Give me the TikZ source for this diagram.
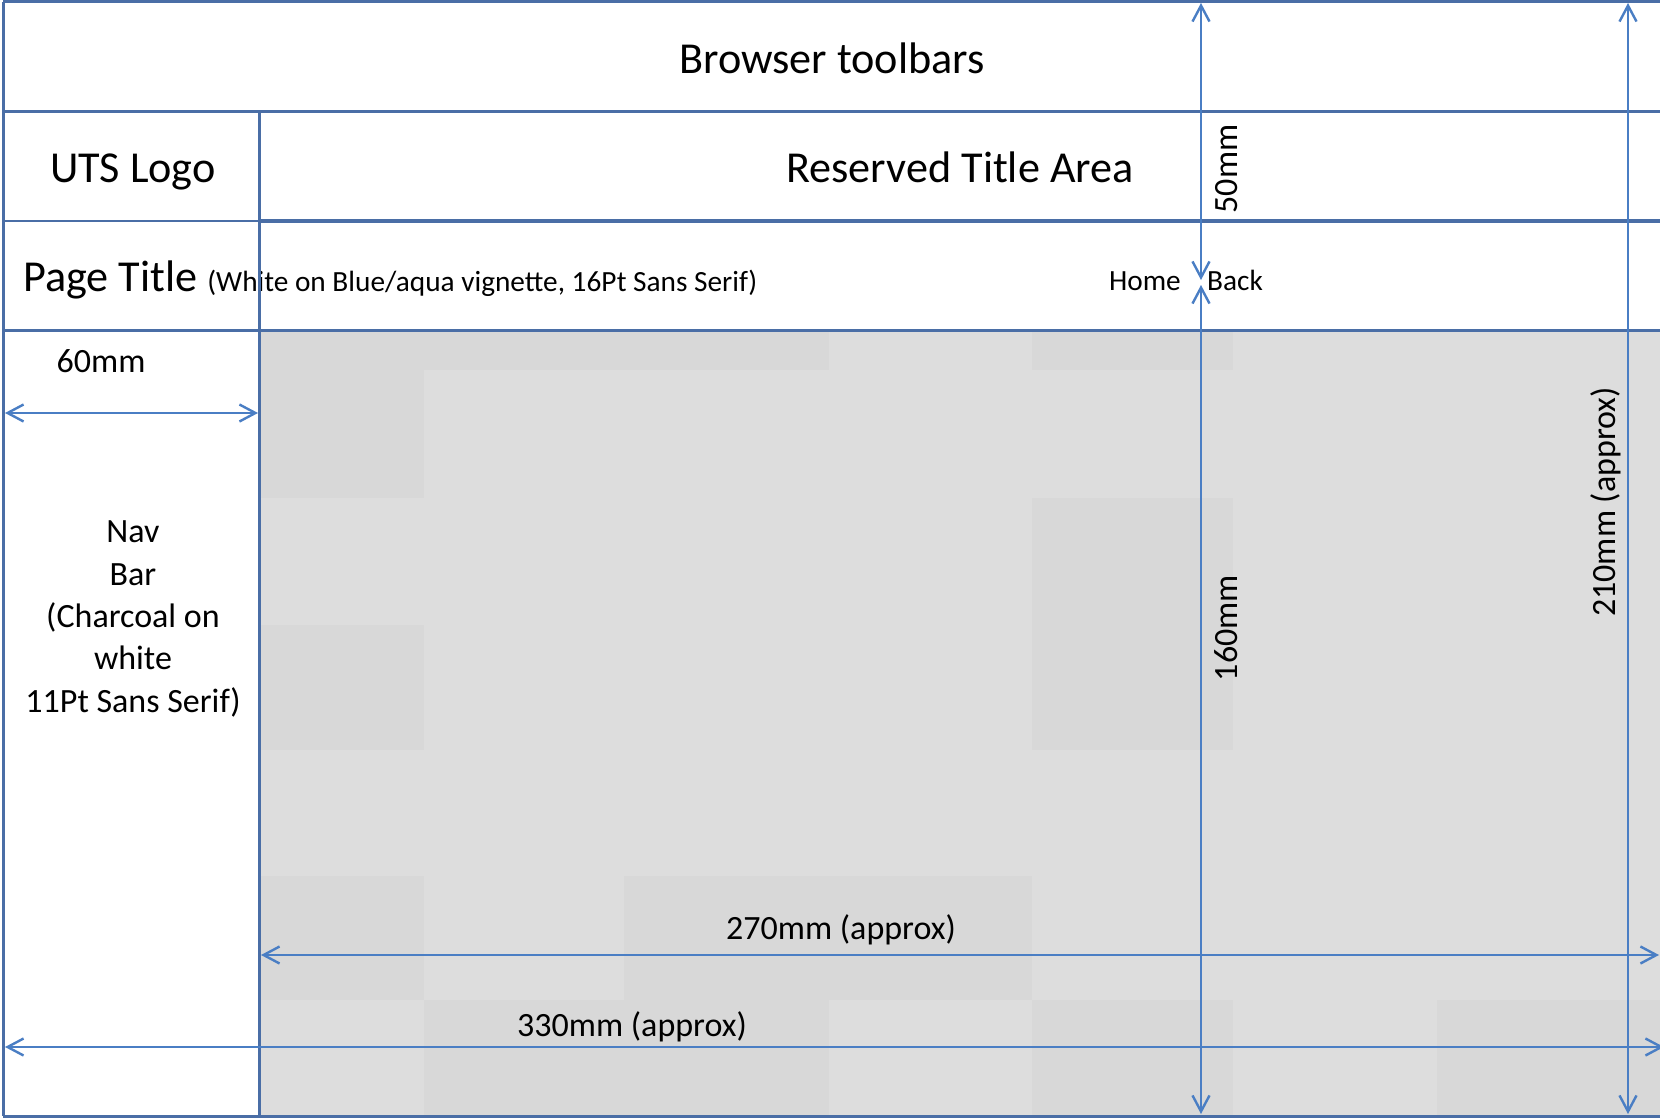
\documentclass[tikz,border=0pt]{standalone}
\usepackage{fontspec}
\setmainfont{Carlito}
\usetikzlibrary{arrows.meta}

\definecolor{gridblue}{RGB}{74,110,166}
\definecolor{dimblue}{RGB}{74,126,196}
\definecolor{pagegrey}{RGB}{221,221,221}
\definecolor{tilegrey}{RGB}{216,216,216}

\newcommand\fsLarge{\fontsize{44.2}{52}\selectfont}
\newcommand\fsMid{\fontsize{34}{42.3}\selectfont}
\newcommand\fsSmall{\fontsize{29.3}{35}\selectfont}

\tikzset{
  rule/.style={draw=gridblue, line width=3pt},
  barb/.tip={Straight Barb[length=16pt,width=17pt]},
  dimline/.style={draw=dimblue, line width=2.4pt, barb-barb},
  lbl/.style={inner sep=0pt, text=black},
}

\begin{document}
\begin{tikzpicture}[x=1pt, y=-1pt]
\useasboundingbox (0,0) rectangle (1660,1118);
\fill[white] (0,0) rectangle (1660,1118);

% content area with its faint tiling
\fill[pagegrey] (259,330) rectangle (1660,1116);
\foreach \xa/\ya/\xb/\yb in {259/330/424/498, 424/330/829/370, 1032/330/1233/370,
    1032/498/1233/750, 259/625/424/750, 259/876/424/1000, 624/876/1032/1000,
    424/1000/829/1116, 1032/1000/1233/1116, 1437/1000/1660/1116}
  \fill[tilegrey] (\xa,\ya) rectangle (\xb,\yb);

% labels
\node[lbl, font=\fsLarge, anchor=base] (toolbars) at (832,74) {Browser toolbars};
\node[lbl, font=\fsLarge, anchor=base] (logo) at (133,183) {UTS Logo};
\node[lbl, font=\fsLarge, anchor=base] (reserved) at (960,183) {Reserved Title Area};
\node[lbl, font=\fsLarge, anchor=base west] (pagetitle) at (23,291)
  {Page Title {\fsSmall (White on Blue/aqua vignette, 16Pt Sans Serif)}};
\node[lbl, font=\fsSmall, anchor=base east] (home) at (1181,290) {Home};
\node[lbl, font=\fsSmall, anchor=base west] (back) at (1207,290) {Back};
\node[lbl, font=\fsMid, anchor=base] (w60) at (101,372) {60mm};
\node[lbl, font=\fsMid, align=center, anchor=base] (nav) at (133,712)
  {Nav\\Bar\\(Charcoal on\\white\\11Pt Sans Serif)};
\node[lbl, font=\fsMid, anchor=base] (w270) at (841,939) {270mm (approx)};
\node[lbl, font=\fsMid, anchor=base] (w330) at (632,1036) {330mm (approx)};
\node[lbl, font=\fsMid, rotate=90, anchor=base] (h50) at (1237,169) {50mm};
\node[lbl, font=\fsMid, rotate=90, anchor=base] (h160) at (1237,628) {160mm};
\node[lbl, font=\fsMid, rotate=90, anchor=base] (h210) at (1615,502) {210mm (approx)};

% table rules
\draw[rule] (3,2) -- (1660,2);
\draw[rule] (3,112) -- (1660,112);
\draw[rule, line width=2.5pt] (3,221) -- (259,221);
\draw[rule, line width=4pt] (259,221) -- (1660,221);
\draw[rule] (3,330) -- (1660,330);
\draw[rule] (3,1116) -- (1660,1116);
\draw[rule] (3,2) -- (3,1116);
\draw[rule] (259,112) -- (259,1116);

% dimension end points
\coordinate (t50) at (1201,3);
\coordinate (b50) at (1201,280);
\coordinate (t160) at (1201,285);
\coordinate (b160) at (1201,1114);
\coordinate (t210) at (1628,3);
\coordinate (b210) at (1628,1114);
\coordinate (l60) at (5,413);
\coordinate (r60) at (258,413);
\coordinate (l270) at (261,955);
\coordinate (r270) at (1659,955);
\coordinate (l330) at (5,1047);
\coordinate (r330) at (1664,1047);

% dimension arrows
\draw[dimline] (t50) -- (b50);
\draw[dimline] (t160) -- (b160);
\draw[dimline] (t210) -- (b210);
\draw[dimline] (l60) -- (r60);
\draw[dimline] (l270) -- (r270);
\draw[dimline] (l330) -- (r330);
\end{tikzpicture}
\end{document}
